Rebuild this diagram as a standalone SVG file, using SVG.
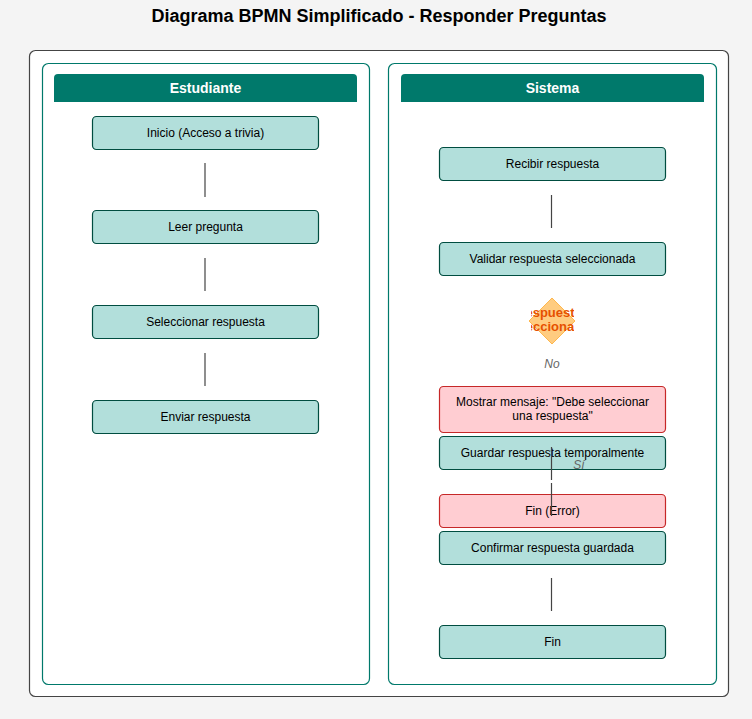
<svg xmlns="http://www.w3.org/2000/svg" width="752" height="719" viewBox="0 0 752 719">
<style>
.title{font-family:"Liberation Sans",Arial,sans-serif;font-size:18px;font-weight:bold;fill:#000;text-anchor:middle}
.lane{fill:#fff;stroke:#00796b;stroke-width:1.2}
.hdr{fill:#00796b}
.hdrt{font-family:"Liberation Sans",Arial,sans-serif;font-size:14px;font-weight:bold;fill:#fff;text-anchor:middle}
.task{fill:#b2dfdb;stroke:#004d40;stroke-width:1.2}
.err{fill:#ffcdd2;stroke:#c62828;stroke-width:1.2}
.t{font-family:"Liberation Sans",Arial,sans-serif;font-size:12px;fill:#000;text-anchor:middle}
.conn{stroke:#444;stroke-width:1.2;fill:none}
.lbl{font-family:"Liberation Sans",Arial,sans-serif;font-size:12px;font-style:italic;fill:#666;text-anchor:middle}
.gw{fill:#ffcc80;stroke:#ffb74d;stroke-width:1}
.gwt{font-family:"Liberation Sans",Arial,sans-serif;font-size:13px;font-weight:bold;fill:#e65100;text-anchor:middle}
</style>
<defs>
<clipPath id="gwclip"><rect x="531" y="298" width="43" height="46"/></clipPath>
</defs>
<rect width="752" height="719" fill="#f4f4f4"/>
<text class="title" x="379" y="22">Diagrama BPMN Simplificado - Responder Preguntas</text>
<rect x="29.5" y="50.5" width="699" height="646" rx="6" fill="#fff" stroke="#444" stroke-width="1.2"/>
<g id="lane-estudiante">
<rect class="lane" x="42.5" y="63.5" width="327" height="621" rx="6"/>
<path class="hdr" d="M54,102 V78 a4,4 0 0 1 4,-4 H353 a4,4 0 0 1 4,4 V102 Z"/>
<text class="hdrt" x="205.5" y="93">Estudiante</text>
</g>
<g id="lane-sistema">
<rect class="lane" x="388.5" y="63.5" width="328" height="621" rx="6"/>
<path class="hdr" d="M401,102 V78 a4,4 0 0 1 4,-4 H700 a4,4 0 0 1 4,4 V102 Z"/>
<text class="hdrt" x="552.5" y="93">Sistema</text>
</g>
<g id="n-inicio"><rect class="task" x="92.5" y="116.5" width="226" height="33" rx="4"/><text class="t" x="205.5" y="137">Inicio (Acceso a trivia)</text></g>
<g id="n-leer"><rect class="task" x="92.5" y="210.5" width="226" height="33" rx="4"/><text class="t" x="205.5" y="231">Leer pregunta</text></g>
<g id="n-seleccionar"><rect class="task" x="92.5" y="305.5" width="226" height="33" rx="4"/><text class="t" x="205.5" y="326">Seleccionar respuesta</text></g>
<g id="n-enviar"><rect class="task" x="92.5" y="400.5" width="226" height="33" rx="4"/><text class="t" x="205.5" y="421">Enviar respuesta</text></g>
<g id="n-recibir"><rect class="task" x="439.5" y="147.5" width="226" height="33" rx="4"/><text class="t" x="552.5" y="168">Recibir respuesta</text></g>
<g id="n-validar"><rect class="task" x="439.5" y="242.5" width="226" height="33" rx="4"/><text class="t" x="552.5" y="263">Validar respuesta seleccionada</text></g>
<g id="n-gateway">
<polygon class="gw" points="552,298 575,321 552,344 529,321"/>
<g clip-path="url(#gwclip)">
<text class="gwt" x="545" y="317">¿Respuesta</text>
<text class="gwt" x="552.5" y="331">seleccionada?</text>
</g>
</g>
<g id="n-mostrar"><rect class="err" x="439.5" y="386.5" width="226" height="46" rx="4"/><text class="t" x="552.5" y="406">Mostrar mensaje: "Debe seleccionar</text><text class="t" x="552.5" y="420">una respuesta"</text></g>
<g id="n-guardar"><rect class="task" x="439.5" y="436.5" width="226" height="33" rx="4"/><text class="t" x="552.5" y="457">Guardar respuesta temporalmente</text></g>
<g id="n-finerror"><rect class="err" x="439.5" y="494.5" width="226" height="33" rx="4"/><text class="t" x="552.5" y="515">Fin (Error)</text></g>
<g id="n-confirmar"><rect class="task" x="439.5" y="531.5" width="226" height="33" rx="4"/><text class="t" x="552.5" y="552">Confirmar respuesta guardada</text></g>
<g id="n-fin"><rect class="task" x="439.5" y="625.5" width="226" height="33" rx="4"/><text class="t" x="552.5" y="646">Fin</text></g>
<g id="connectors">
<line class="conn" x1="205" y1="163" x2="205" y2="197"/>
<line class="conn" x1="205" y1="258" x2="205" y2="291"/>
<line class="conn" x1="205" y1="353" x2="205" y2="386"/>
<line class="conn" x1="551.5" y1="195" x2="551.5" y2="228"/>
<line class="conn" x1="551.5" y1="447" x2="551.5" y2="480"/>
<line class="conn" x1="551.5" y1="483" x2="551.5" y2="516"/>
<line class="conn" x1="551.5" y1="578" x2="551.5" y2="611"/>
<text class="lbl" x="552" y="368">No</text>
<text class="lbl" x="579" y="469">Sí</text>
</g>
</svg>
